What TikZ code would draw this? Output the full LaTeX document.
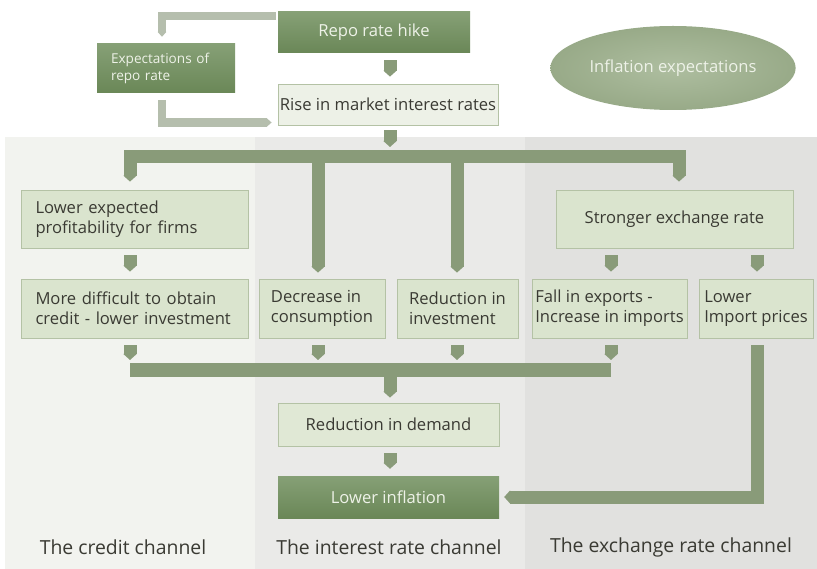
\documentclass[tikz,border=0pt]{standalone}
\usepackage{fontspec}
\setmainfont{Open Sans}
\usetikzlibrary{arrows.meta,shapes.geometric,calc}
\definecolor{pA}{HTML}{F2F3EF}
\definecolor{pB}{HTML}{EAEAE8}
\definecolor{pC}{HTML}{E1E1DF}
\definecolor{dkA}{HTML}{86A076}
\definecolor{dkB}{HTML}{6A8757}
\definecolor{ltfill}{HTML}{DAE4CE}
\definecolor{ltfillB}{HTML}{EDF1E7}
\definecolor{ltline}{HTML}{B4C2A5}
\definecolor{conncol}{HTML}{899B79}
\definecolor{lconncol}{HTML}{B5BEAD}
\definecolor{txt}{HTML}{3A3A33}
\definecolor{elA}{HTML}{AEBEA0}
\definecolor{elB}{HTML}{98AA88}
\definecolor{wtxt}{HTML}{EEF2E8}
\begin{document}
\begin{tikzpicture}[x=1pt,y=-1pt,
  font=\fontsize{16.6}{20}\selectfont,
  lbox/.style={draw=ltline, line width=0.8pt, fill=ltfill, inner sep=0pt, text=txt, align=left},
  dbox/.style={top color=dkA, bottom color=dkB, inner sep=0pt, text=wtxt, align=left},
  conn/.style={draw=conncol, line width=13pt, line join=miter,
    -{Triangle[length=6pt,width=13pt]}, shorten <=7pt, shorten >=7pt},
  conn2/.style={draw=conncol, line width=13pt, line join=miter,
    {Triangle[length=6pt,width=13pt]}-{Triangle[length=6pt,width=13pt]}, shorten <=8pt, shorten >=8pt},
  bar/.style={draw=conncol, line width=14pt},
  lconn/.style={draw=lconncol, line width=8.5pt, line join=miter,
    -{Triangle[length=5pt,width=8.5pt]}},
  chan/.style={font=\fontsize{19.4}{22}\selectfont, text=txt}
]
\useasboundingbox (0,0) rectangle (817,569);
% panels
\fill[white] (0,0) rectangle (817,569);
\fill[pA] (5,137) rectangle (255,569);
\fill[pB] (255,137) rectangle (525,569);
\fill[pC] (525,137) rectangle (817,569);

% nodes
\node[dbox, minimum width=192pt, minimum height=41pt, align=center] (repo) at (374,32.5) {Repo rate hike};
\node[dbox, minimum width=138pt, minimum height=49pt, text width=110pt,
  font=\fontsize{13.6}{17}\selectfont] (expect) at (166,68.5) {Expectations of\\repo rate};
\node[lbox, fill=ltfillB, minimum width=220pt, minimum height=41pt] (rise) at (388,104.5) {Rise in market interest rates};
\node[ellipse, draw=none, inner color=elA, outer color=elB, minimum width=230pt, minimum height=84pt, text=wtxt] (infexp) at (673,68) {Inflation expectations};

\node[lbox, minimum width=227pt, minimum height=58pt, text width=198pt] (profit) at (134.5,219) {Lower expected\\profitability for firms};
\node[lbox, minimum width=237pt, minimum height=58pt] (strong) at (674.5,219) {Stronger exchange rate};

\node[lbox, minimum width=227pt, minimum height=59pt, text width=198pt] (credit) at (134.5,308.5) {More difficult to obtain\\credit - lower investment};
\node[lbox, minimum width=126pt, minimum height=59pt] (cons) at (322,308.5) {Decrease in\\consumption};
\node[lbox, minimum width=121pt, minimum height=59pt] (inv) at (457.5,308.5) {Reduction in\\investment};
\node[lbox, minimum width=155pt, minimum height=59pt] (expo) at (609.5,308.5) {Fall in exports -\\Increase in imports};
\node[lbox, minimum width=114pt, minimum height=59pt] (imp) at (756,308.5) {Lower\\Import prices};

\node[lbox, fill=ltfill!85!white, minimum width=221pt, minimum height=43pt] (demand) at (388.5,424.5) {Reduction in demand};
\node[dbox, minimum width=221pt, minimum height=42pt, align=center] (infl) at (388.5,497) {Lower inflation};

\node[chan] (c1) at (123,547) {The credit channel};
\node[chan] (c2) at (389,547) {The interest rate channel};
\node[chan] (c3) at (671,547) {The exchange rate channel};

% coordinates
\coordinate (xA) at (130,0);
\coordinate (xB) at (318,0);
\coordinate (xC) at (457,0);
\coordinate (xD) at (611,0);
\coordinate (xE) at (757,0);
\coordinate (xM) at (390,0);
\coordinate (tl) at (162,16);
\coordinate (bl) at (162,122.5);
\coordinate (b1L) at (130,156.5);
\coordinate (b1R) at (679,156.5);
\coordinate (b2L) at (130,370.5);
\coordinate (b2R) at (611,370.5);

% light top connectors
\draw[lconn, shorten <=2pt, shorten >=7pt] (repo.west |- tl) -- (tl) -- (expect.north -| tl);
\draw[lconn, shorten <=7pt, shorten >=6pt] (expect.south -| bl) -- (bl) -- (rise.west |- bl);

% repo -> rise
\draw[conn] (repo.south -| xM) -- (rise.north -| xM);
% rise -> bus
\draw[conn, shorten <=5pt, shorten >=9.5pt] (rise.south -| xM) -- (b1L -| xM);
\draw[conn2] (profit.north -| b1L) -- (b1L) -- (b1R) -- (strong.north -| b1R);
\draw[conn, shorten <=0pt, shorten >=6pt] (b1L -| xB) -- (cons.north -| xB);
\draw[conn, shorten <=0pt, shorten >=6pt] (b1L -| xC) -- (inv.north -| xC);

% row1 -> row2
\draw[conn] (profit.south -| xA) -- (credit.north -| xA);
\draw[conn] (strong.south -| xD) -- (expo.north -| xD);
\draw[conn] (strong.south -| xE) -- (imp.north -| xE);

% row2 -> bus
\draw[conn, shorten >=10.5pt] (credit.south -| xA) -- (b2L -| xA);
\draw[conn, shorten >=10.5pt] (cons.south -| xB) -- (b2L -| xB);
\draw[conn, shorten >=10.5pt] (inv.south -| xC) -- (b2L -| xC);
\draw[conn, shorten >=10.5pt] (expo.south -| xD) -- (b2L -| xD);
\draw[bar] (b2L) -- (b2R);
\draw[conn, shorten <=0pt, shorten >=5pt] (b2L -| xM) -- (demand.north -| xM);

% demand -> inflation
\draw[conn] (demand.south -| xM) -- (infl.north -| xM);
% import prices -> inflation
\draw[conn, shorten >=5pt] (imp.south -| xE) |- (infl.east);
\end{tikzpicture}
\end{document}
